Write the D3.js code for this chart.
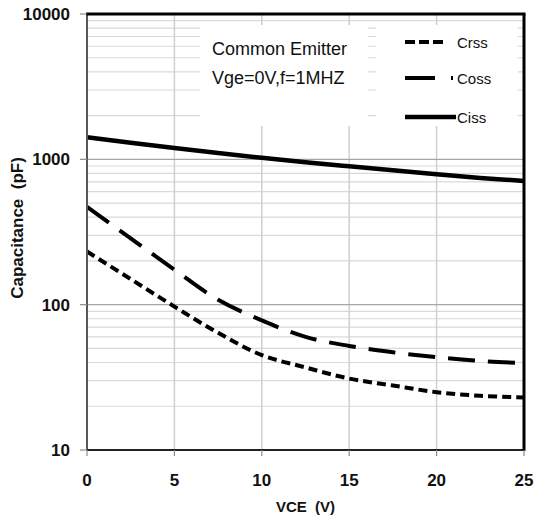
<!DOCTYPE html>
<html>
<head>
<meta charset="utf-8">
<script src="https://cdn.jsdelivr.net/npm/d3@7"></script>
<style>
  html, body { margin: 0; background: #fff; overflow: hidden; }
  svg { display: block; }
  .tick-label { font-family: "Liberation Sans", Arial, sans-serif; font-weight: bold; font-size: 17px; fill: #111; }
  .axis-title { font-family: "Liberation Sans", Arial, sans-serif; font-weight: bold; fill: #111; }
  .note { font-family: "Liberation Sans", Arial, sans-serif; fill: #111; }
</style>
</head>
<body>
<div id="chart"></div>
<script>
// Collector-emitter voltage points (V)
const vce = [0, 2.5, 5, 7.5, 10, 12.5, 15, 17.5, 20, 22.5, 25];
// Capacitances (pF)
const crss = [232, 150, 97, 64, 45, 37, 31, 27.8, 25, 23.6, 23];
const coss = [470, 286, 174, 108, 78, 60, 52, 47, 43.5, 41, 39.5];
const ciss = [1420, 1300, 1195, 1105, 1025, 955, 895, 840, 790, 745, 710];

const xTicks = [0, 5, 10, 15, 20, 25];
const yTicks = [10, 100, 1000, 10000];

const series = [
  { name: "Crss", values: crss, dash: "9,5" },
  { name: "Coss", values: coss, dash: "27,13" },
  { name: "Ciss", values: ciss, dash: null },
];

const W = 535, H = 524;
const pad = { left: 87, top: 14, right: 11, bottom: 74 };
const innerWidth = W - pad.left - pad.right;
const innerHeight = H - pad.top - pad.bottom;

const svg = d3.select("#chart").append("svg").attr("width", W).attr("height", H);

const x = d3.scaleLinear().domain([0, 25]).range([0, innerWidth]);
const y = d3.scaleLog().domain([10, 10000]).range([innerHeight, 0]);

const g = svg.append("g").attr("transform", `translate(${pad.left},${pad.top})`);

// Minor log gridlines (2..9 in each decade)
const minor = [];
[10, 100, 1000].forEach((d) => {
  for (let k = 2; k <= 9; k++) minor.push(d * k);
});

g.append("g")
  .selectAll("line")
  .data(minor)
  .join("line")
  .attr("x1", 0)
  .attr("x2", innerWidth)
  .attr("y1", (d) => y(d))
  .attr("y2", (d) => y(d))
  .attr("stroke", "#d9d9d9")
  .attr("stroke-width", 1.2);

// Vertical gridlines
g.append("g")
  .selectAll("line")
  .data(xTicks.slice(1, -1))
  .join("line")
  .attr("x1", (d) => x(d))
  .attr("x2", (d) => x(d))
  .attr("y1", 0)
  .attr("y2", innerHeight)
  .attr("stroke", "#d0d0d0")
  .attr("stroke-width", 1.5);

// Major decade gridlines
g.append("g")
  .selectAll("line")
  .data([100, 1000])
  .join("line")
  .attr("x1", 0)
  .attr("x2", innerWidth)
  .attr("y1", (d) => y(d))
  .attr("y2", (d) => y(d))
  .attr("stroke", "#a6a6a6")
  .attr("stroke-width", 1.3);

// White text boxes cover the grid
g.append("rect")
  .attr("x", 200 - pad.left).attr("y", 25 - pad.top)
  .attr("width", 168).attr("height", 101)
  .attr("fill", "#fff");
g.append("rect")
  .attr("x", 376 - pad.left).attr("y", 25 - pad.top)
  .attr("width", 142).attr("height", 101)
  .attr("fill", "#fff");

// Curves
const line = d3
  .line()
  .x((d, i) => x(vce[i]))
  .y((d) => y(d))
  .curve(d3.curveCatmullRom.alpha(0.5));

g.append("g")
  .attr("fill", "none")
  .attr("stroke", "#000")
  .selectAll("path")
  .data(series)
  .join("path")
  .attr("d", (s) => line(s.values))
  .attr("stroke-width", (s) => (s.dash ? 4 : 4.5))
  .attr("stroke-dasharray", (s) => s.dash);

// Frame: left/bottom axis lines, top/right black border
g.append("line").attr("x1", 0).attr("x2", 0).attr("y1", 0).attr("y2", innerHeight)
  .attr("stroke", "#595959").attr("stroke-width", 2);
g.append("line").attr("x1", 0).attr("x2", innerWidth).attr("y1", innerHeight).attr("y2", innerHeight)
  .attr("stroke", "#222").attr("stroke-width", 2);
g.append("line").attr("x1", -1).attr("x2", innerWidth + 1.5).attr("y1", 0).attr("y2", 0)
  .attr("stroke", "#000").attr("stroke-width", 3);
g.append("line").attr("x1", innerWidth).attr("x2", innerWidth).attr("y1", 0).attr("y2", innerHeight + 1)
  .attr("stroke", "#000").attr("stroke-width", 3);

// Y axis ticks and labels
const gy = g.append("g");
gy.selectAll("line")
  .data(yTicks)
  .join("line")
  .attr("x1", -7).attr("x2", 0)
  .attr("y1", (d) => y(d)).attr("y2", (d) => y(d))
  .attr("stroke", "#8c8c8c").attr("stroke-width", 1.2);
gy.selectAll("text")
  .data(yTicks)
  .join("text")
  .attr("class", "tick-label")
  .attr("x", -17)
  .attr("y", (d) => y(d))
  .attr("dy", "0.36em")
  .attr("text-anchor", "end")
  .text((d) => d);

// X axis ticks and labels
const gx = g.append("g").attr("transform", `translate(0,${innerHeight})`);
gx.selectAll("line")
  .data(xTicks)
  .join("line")
  .attr("x1", (d) => x(d)).attr("x2", (d) => x(d))
  .attr("y1", 0).attr("y2", 6)
  .attr("stroke", "#8c8c8c").attr("stroke-width", 1.2);
gx.selectAll("text")
  .data(xTicks)
  .join("text")
  .attr("class", "tick-label")
  .attr("x", (d) => x(d))
  .attr("y", 36)
  .attr("text-anchor", "middle")
  .text((d) => d);

// Axis titles
svg.append("text")
  .attr("class", "axis-title")
  .attr("x", pad.left + innerWidth / 2)
  .attr("y", 512)
  .attr("text-anchor", "middle")
  .style("font-size", "15px")
  .style("white-space", "pre")
  .text("VCE  (V)");

svg.append("text")
  .attr("class", "axis-title")
  .attr("transform", `translate(23,${pad.top + innerHeight / 2 - 4}) rotate(-90)`)
  .attr("text-anchor", "middle")
  .style("font-size", "17px")
  .style("white-space", "pre")
  .text("Capacitance  (pF)");

// Condition note
const note = svg.append("g").attr("class", "note").style("font-size", "18px");
note.append("text").attr("x", 212).attr("y", 55).text("Common Emitter");
note.append("text").attr("x", 212).attr("y", 84).text("Vge=0V,f=1MHZ");

// Legend
const legend = svg.append("g").attr("transform", "translate(405,0)");
const legendY = [42, 78, 117];
const legendLen = [42, 48, 51];
series.forEach((s, i) => {
  legend.append("line")
    .attr("x1", 0).attr("x2", legendLen[i])
    .attr("y1", legendY[i]).attr("y2", legendY[i])
    .attr("stroke", "#000")
    .attr("stroke-width", s.dash ? 4 : 4.5)
    .attr("stroke-dasharray", s.dash ? (i === 0 ? "10,4" : "30,16") : null);
  legend.append("text")
    .attr("class", "note")
    .attr("x", 52)
    .attr("y", legendY[i] + 6)
    .style("font-size", "15px")
    .text(s.name);
});
</script>
</body>
</html>
